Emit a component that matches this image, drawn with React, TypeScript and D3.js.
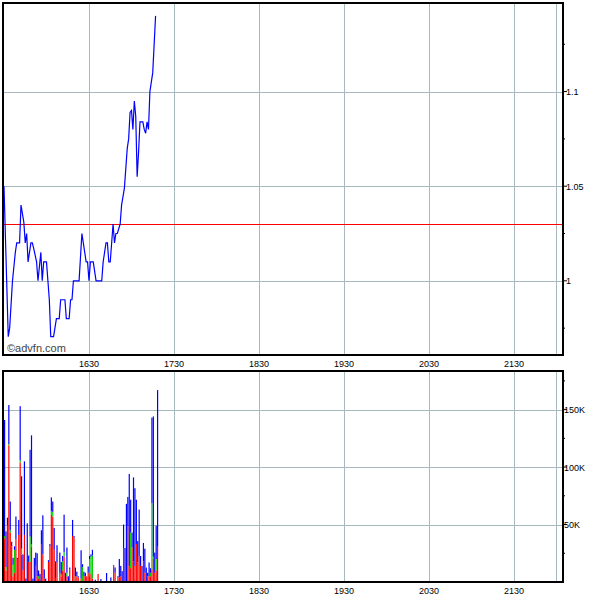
import React from 'react';
import * as d3 from 'd3';

// Price series: minutes after 15:30 and price
const priceMinutes = [0, 3, 4, 6, 8, 9, 11, 12, 14, 15, 16, 17, 19, 20, 21, 23, 24, 26, 27, 28, 30, 31, 32, 33, 35, 37, 39, 40, 43, 44, 46, 47, 48, 49, 53, 55, 58, 59, 60, 61, 63, 65, 69, 70, 72, 73, 74, 75, 77, 78, 79, 80, 82, 83, 85, 87, 88, 89, 90, 91, 92, 93, 94, 95, 96, 98, 99, 100, 101, 102, 103, 105, 107];
const priceValues = [1.05, 0.9705, 0.975, 1.0, 1.015, 1.02, 1.02, 1.04, 1.031, 1.02, 1.025, 1.01, 1.02, 1.02, 1.017, 1.01, 1.0, 1.015, 1.0, 1.01, 1.01, 1.0, 0.99, 0.9705, 0.9705, 0.98, 0.98, 0.99, 0.99, 0.98, 0.98, 0.99, 0.99, 1.0, 1.0, 1.025, 1.01, 1.01, 1.0, 1.01, 1.01, 1.0, 1.0, 1.01, 1.02, 1.02, 1.01, 1.01, 1.03, 1.02, 1.025, 1.025, 1.03, 1.04, 1.049, 1.07, 1.075, 1.089, 1.09, 1.08, 1.095, 1.087, 1.055, 1.068, 1.084, 1.084, 1.08, 1.078, 1.084, 1.08, 1.1, 1.11, 1.14];
const previousClose = 1.03;

// Volume series (thousands): minute, red / green / blue stacked parts
const volMinutes = [0, 1, 2, 3, 4, 5, 6, 7, 8, 9, 10, 11, 12, 13, 14, 15, 16, 17, 18, 19, 20, 21, 22, 23, 24, 25, 26, 27, 28, 29, 31, 32, 33, 34, 35, 36, 37, 39, 40, 41, 42, 43, 44, 45, 46, 48, 49, 50, 51, 52, 54, 55, 56, 57, 58, 59, 60, 61, 62, 64, 66, 68, 72, 75, 77, 78, 80, 81, 82, 83, 84, 85, 86, 87, 88, 89, 90, 91, 92, 93, 94, 95, 96, 97, 98, 99, 100, 101, 102, 103, 104, 105, 106, 107, 108];
const volRed = [38, 10, 49, 119, 43, 31, 5, 8, 37, 20, 41, 104, 24, 10, 41, 0, 0, 17.5, 17.5, 31, 0, 0, 14, 5, 3, 0, 33, 24, 3, 0, 17.5, 31, 58.6, 57, 28, 3, 17, 8, 5, 10, 22, 0, 5, 0, 11, 40, 38.5, 0, 5, 4, 3, 0, 5, 5, 5, 8, 5, 7, 3, 0, 7, 0, 0, 0, 13.5, 8, 4, 4, 5, 0, 29, 0, 0, 48.6, 14, 12, 30, 18, 14, 33, 17, 22.7, 14, 0, 18, 8, 0, 5, 5, 5, 10.6, 20, 8, 10, 30.7];
const volGreen = [2, 3, 0, 1, 2, 0, 10, 20, 0, 0, 0, 2, 5, 0, 0, 0, 0, 0, 22, 2, 0, 0, 0, 0, 2, 0, 0, 0, 0, 0, 0, 0, 3, 4, 0, 0, 0, 0, 2, 8, 4, 0, 3, 0, 0, 0, 0, 5, 0, 0, 0, 13, 0, 0, 0, 0, 15, 15, 20, 0, 0, 0, 0, 0, 0, 0, 0, 0, 0, 0, 0, 0, 0, 0, 0, 31, 0, 0, 0, 0, 0, 0, 0, 0, 0, 0, 0, 0, 0, 3, 58, 2, 0, 10, 0];
const volBlue = [101, 31, 7, 34, 25, 4, 6, 3, 20, 1, 13, 47, 63, 14, 64, 3, 51, 5.5, 75.5, 94.6, 3, 21, 11.6, 20, 5, 7, 12, 34, 8, 3, 1.5, 2, 12, 9, 19, 15, 15, 17.6, 10.5, 4.7, 32.6, 8, 22, 5, 1.6, 14, 1.5, 7.6, 4, 1, 24.6, 2.5, 4, 3, 0, 5.5, 2.7, 2, 5, 2, 0, 2.6, 7.8, 4, 1.1, 4.6, 1, 16, 9, 9.5, 21, 29.6, 68, 25.4, 80, 28.6, 13, 73, 67.6, 38.6, 18.6, 40.3, 8.7, 14, 16, 21, 12.6, 3, 12, 4, 74.4, 122, 17.6, 29, 136.3];

// Axis ticks
const timeTickMinutes = [60, 120, 180, 240, 300, 360];
const timeTickLabels = ['1630', '1730', '1830', '1930', '2030', '2130'];
const closeMinute = 390;
const priceTicks = [1.0, 1.05, 1.1];
const priceTickLabels = ['1', '1.05', '1.1'];
const priceMinorTicks = [0.975, 1.025, 1.075, 1.125];
const volTicks = [50, 100, 150];
const volTickLabels = ['50K', '100K', '150K'];
const volMinorTicks = [25, 75, 125, 175];

const L = 3, R = 563;
const P_TOP = 3, P_BOT = 355;
const V_TOP = 371, V_BOT = 582;
const GRID = '#a6babd';
const FONT = 'Liberation Sans, Arial, sans-serif';

export default function App() {
  const x = d3.scaleLinear().domain([-0.7, 394.6]).range([L, R]);
  const y = d3.scaleLinear().domain([0.9608, 1.1468]).range([P_BOT, P_TOP]);
  const yv = d3.scaleLinear().domain([0, 183.6]).range([V_BOT, V_TOP]);

  const pts = priceMinutes.map((m, i) => [m, priceValues[i]] as [number, number]);
  const line = d3.line<[number, number]>().x(d => x(d[0])).y(d => y(d[1]));

  const gridX = [...timeTickMinutes, closeMinute];

  const bars = volMinutes.map((m, i) => {
    const r = volRed[i], g = volGreen[i], b = volBlue[i];
    return { m, segs: [
      { lo: 0, hi: r, c: '#ff0000' },
      { lo: r, hi: r + g, c: '#00cc00' },
      { lo: r + g, hi: r + g + b, c: '#0000ff' },
    ] };
  });

  return (
    <svg width={600} height={600} style={{ position: 'absolute', left: 0, top: 0, background: '#fff' }} fontFamily={FONT}>
      <rect x={0} y={0} width={600} height={600} fill="#fff" />
      {/* price panel grid */}
      {gridX.map(m => (
        <line key={'pg' + m} x1={Math.round(x(m)) + 0.5} x2={Math.round(x(m)) + 0.5} y1={P_TOP} y2={P_BOT} stroke={GRID} strokeWidth={1} />
      ))}
      {priceTicks.map(v => (
        <line key={'ph' + v} x1={L} x2={R} y1={Math.round(y(v)) + 0.5} y2={Math.round(y(v)) + 0.5} stroke={GRID} strokeWidth={1} />
      ))}
      <line x1={L} x2={R} y1={Math.round(y(previousClose)) + 0.5} y2={Math.round(y(previousClose)) + 0.5} stroke="#ff0000" strokeWidth={1} />
      <path d={line(pts) || ''} fill="none" stroke="#0000ff" strokeWidth={1.2} />
      <text x={7} y={352} fontSize={11} fill="#444">©advfn.com</text>
      <rect x={L} y={P_TOP} width={R - L} height={P_BOT - P_TOP} fill="none" stroke="#000" strokeWidth={2} />
      {priceTicks.map((v, i) => (
        <g key={'pt' + v}>
          <line x1={R} x2={R + 4} y1={y(v)} y2={y(v)} stroke="#000" />
          <text x={R + 3} y={y(v) + 3.5} fontSize={9} fill="#000">{priceTickLabels[i]}</text>
        </g>
      ))}
      {priceMinorTicks.map(v => (
        <line key={'pm' + v} x1={R} x2={R + 2} y1={y(v)} y2={y(v)} stroke="#000" />
      ))}

      {/* time labels between panels and at bottom */}
      {timeTickMinutes.map((m, i) => (
        <g key={'tl' + m}>
          <text x={x(m)} y={367} fontSize={9} textAnchor="middle" fill="#000">{timeTickLabels[i]}</text>
          <text x={x(m)} y={594} fontSize={9} textAnchor="middle" fill="#000">{timeTickLabels[i]}</text>
        </g>
      ))}

      {/* volume panel */}
      {gridX.map(m => (
        <line key={'vg' + m} x1={Math.round(x(m)) + 0.5} x2={Math.round(x(m)) + 0.5} y1={V_TOP} y2={V_BOT} stroke={GRID} strokeWidth={1} />
      ))}
      {volTicks.map(v => (
        <line key={'vh' + v} x1={L} x2={R} y1={Math.round(yv(v)) + 0.5} y2={Math.round(yv(v)) + 0.5} stroke={GRID} strokeWidth={1} />
      ))}
      {bars.map(bar => bar.segs.filter(s => s.hi > s.lo).map((s, j) => (
        <rect key={bar.m + '-' + j} x={x(bar.m)} width={1.2} y={yv(s.hi)} height={yv(s.lo) - yv(s.hi)} fill={s.c} />
      )))}
      <rect x={L} y={V_TOP} width={R - L} height={V_BOT - V_TOP} fill="none" stroke="#000" strokeWidth={2} />
      {volTicks.map((v, i) => (
        <g key={'vt' + v}>
          <line x1={R} x2={R + 4} y1={yv(v)} y2={yv(v)} stroke="#000" />
          <text x={R + 1} y={yv(v) + 3.5} fontSize={9} fill="#000">{volTickLabels[i]}</text>
        </g>
      ))}
      {volMinorTicks.map(v => (
        <line key={'vm' + v} x1={R} x2={R + 2} y1={yv(v)} y2={yv(v)} stroke="#000" />
      ))}
    </svg>
  );
}
